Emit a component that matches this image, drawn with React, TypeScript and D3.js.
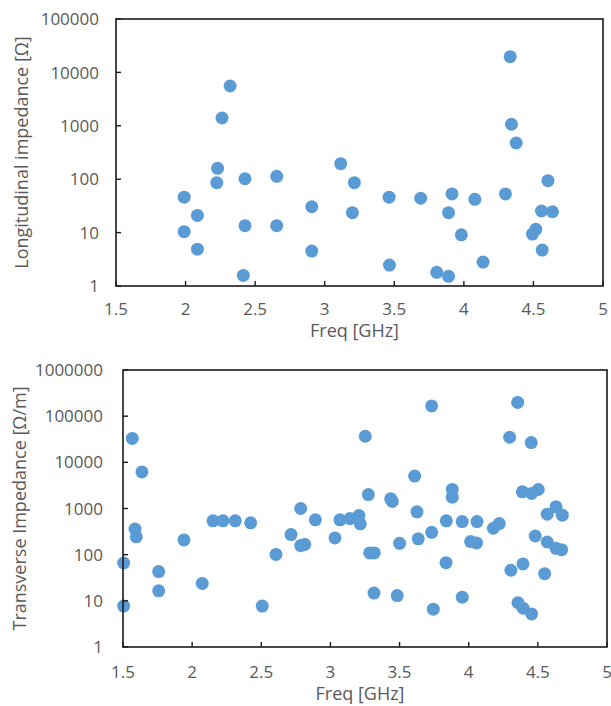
import React from "react";
import * as d3 from "d3";

// ---- Data ----
const longFreq = [
  1.99, 1.99, 2.085, 2.085, 2.224, 2.23, 2.262, 2.32, 2.427, 2.427, 2.415, 2.655, 2.655, 2.907, 2.907,
  3.115, 3.213, 3.199, 3.463, 3.465, 3.69, 3.805, 3.89, 3.915, 3.89, 3.982, 4.079, 4.138, 4.299,
  4.333, 4.342, 4.376, 4.604, 4.558, 4.637, 4.517, 4.493, 4.563,
];
const longZ = [
  46, 10.4, 21, 4.9, 86, 160, 1400, 5560, 102, 13.5, 1.58, 113, 13.5, 30.5, 4.5,
  195, 86, 23.6, 46, 2.47, 44, 1.8, 1.52, 53, 23.6, 9.1, 42, 2.8, 53,
  19700, 1070, 476, 94, 25.4, 24.6, 11.5, 9.4, 4.7,
];

const transFreq = [
  1.567, 1.637, 1.587, 1.596, 1.505, 1.505, 1.758, 1.758, 1.941, 2.073,
  2.151, 2.223, 2.312, 2.423, 2.507, 2.606, 2.715, 2.785, 2.785, 2.814,
  2.891, 3.033, 3.069, 3.141, 3.206, 3.216, 3.252, 3.274, 3.284, 3.317,
  3.315, 3.436, 3.447, 3.483, 3.5, 3.609, 3.626, 3.635, 3.732, 3.732,
  3.744, 3.836, 3.838, 3.881, 3.881, 3.953, 3.953, 4.014, 4.057, 4.06,
  4.178, 4.221, 4.296, 4.354, 4.452, 4.305, 4.388, 4.455, 4.503, 4.392,
  4.481, 4.356, 4.394, 4.455, 4.549, 4.568, 4.568, 4.631, 4.677, 4.631,
  4.672,
];
const transZ = [
  33000, 6200, 360, 243, 66, 7.7, 43, 16.5, 209, 23.8,
  540, 540, 540, 490, 7.7, 101, 272, 1000, 157, 167,
  568, 230, 568, 605, 705, 465, 36700, 2000, 109, 109,
  14.7, 1620, 1420, 13, 176, 5030, 848, 220, 167000, 305,
  6.6, 67, 540, 2590, 1760, 521, 12, 192, 180, 521,
  373, 472, 34900, 198000, 26800, 46, 2300, 2120, 2580, 63,
  254, 9.1, 6.9, 5.2, 38.7, 753, 188, 1090, 716, 137,
  128,
];

const xTicks = [1.5, 2, 2.5, 3, 3.5, 4, 4.5, 5];
const longYTicks = [1, 10, 100, 1000, 10000, 100000];
const transYTicks = [1, 10, 100, 1000, 10000, 100000, 1000000];

const xTitle = "Freq [GHz]";
const longTitle = "Longitudinal impedance [Ω]";
const transTitle = "Transverse Impedance [Ω/m]";

const FONT = "'Open Sans', sans-serif";
const TEXT = "#595959";
const DOT = "#5B9BD5";

type PanelProps = {
  freq: number[];
  z: number[];
  yTicks: number[];
  yMax: number;
  left: number;
  right: number;
  top: number;
  bottom: number;
  yTitle: string;
  yTitleX: number;
  xTitleY: number;
  xLabelY: number;
  yLabelGap: number;
};

function Panel(p: PanelProps) {
  const x = d3.scaleLinear().domain([1.5, 5]).range([p.left, p.right]);
  const y = d3.scaleLog().domain([1, p.yMax]).range([p.bottom, p.top]);
  const cy = (p.top + p.bottom) / 2;
  const cx = (p.left + p.right) / 2;
  return (
    <g>
      {p.freq.map((f, i) => (
        <circle key={i} cx={x(f)} cy={y(p.z[i])} r={6.5} fill={DOT} />
      ))}
      <rect
        x={p.left}
        y={p.top}
        width={p.right - p.left}
        height={p.bottom - p.top}
        fill="none"
        stroke="#1a1a1a"
        strokeWidth={1.6}
      />
      {xTicks.map((t) => (
        <g key={"x" + t}>
          <line x1={x(t)} x2={x(t)} y1={p.bottom} y2={p.bottom - 5} stroke="#1a1a1a" strokeWidth={1.4} />
          <text x={x(t)} y={p.xLabelY} textAnchor="middle" fontSize={17} fill={TEXT} fontFamily={FONT}>
            {String(t)}
          </text>
        </g>
      ))}
      {p.yTicks.map((t) => (
        <g key={"y" + t}>
          <line x1={p.left} x2={p.left + 5} y1={y(t)} y2={y(t)} stroke="#1a1a1a" strokeWidth={1.4} />
          <text
            x={p.left - p.yLabelGap}
            y={y(t)}
            dy="0.36em"
            textAnchor="end"
            fontSize={17}
            fill={TEXT}
            fontFamily={FONT}
          >
            {String(t)}
          </text>
        </g>
      ))}
      <text x={cx - 5} y={p.xTitleY} textAnchor="middle" fontSize={18} fill={TEXT} fontFamily={FONT}>
        {xTitle}
      </text>
      <text
        transform={`translate(${p.yTitleX},${cy}) rotate(-90)`}
        textAnchor="middle"
        dy="0.36em"
        fontSize={18}
        fill={TEXT}
        fontFamily={FONT}
      >
        {p.yTitle}
      </text>
    </g>
  );
}

export default function App() {
  return (
    <svg
      width={611}
      height={706}
      style={{ position: "absolute", left: 0, top: 0, background: "#fff" }}
    >
      <rect width={611} height={706} fill="#fff" />
      <Panel
        freq={longFreq}
        z={longZ}
        yTicks={longYTicks}
        yMax={100000}
        left={116}
        right={603}
        top={19}
        bottom={286}
        yTitle={longTitle}
        yTitleX={22}
        xTitleY={337}
        xLabelY={315}
        yLabelGap={17}
      />
      <Panel
        freq={transFreq}
        z={transZ}
        yTicks={transYTicks}
        yMax={1000000}
        left={123}
        right={607}
        top={370}
        bottom={647}
        yTitle={transTitle}
        yTitleX={20}
        xTitleY={700}
        xLabelY={678}
        yLabelGap={20}
      />
    </svg>
  );
}
